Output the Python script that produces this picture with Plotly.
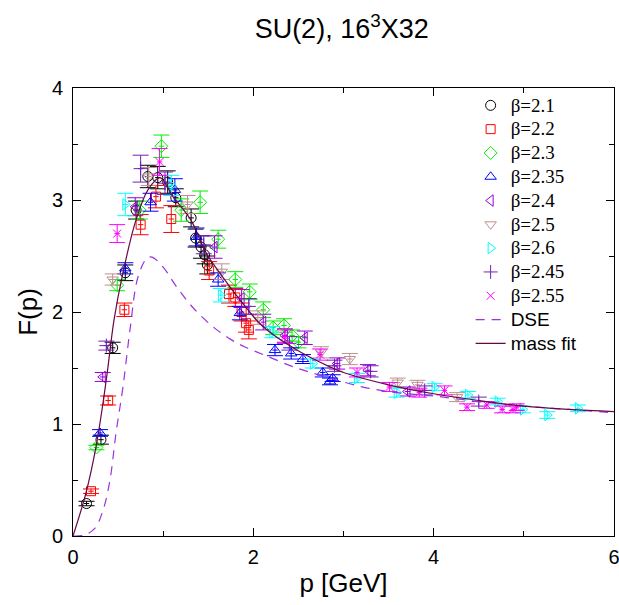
import plotly.graph_objects as go

# ---------------- data ----------------
p21 = [0.15, 0.31, 0.44, 0.58, 0.70, 0.83, 0.94, 1.05, 1.14, 1.31, 1.36, 1.42, 1.46, 1.49]
F21 = [0.29, 0.86, 1.68, 2.35, 2.91, 3.21, 3.20, 3.16, 3.02, 2.84, 2.66, 2.58, 2.51, 2.42]
e21 = [0.02, 0.04, 0.05, 0.07, 0.08, 0.10, 0.10, 0.10, 0.08, 0.08, 0.08, 0.10, 0.08, 0.08]

p22 = [0.20, 0.39, 0.57, 0.75, 0.92, 1.09, 1.51, 1.73, 1.80, 1.87, 1.92, 1.95]
F22 = [0.40, 1.21, 2.02, 2.78, 3.03, 2.83, 2.37, 2.16, 2.13, 2.00, 1.90, 1.84]
e22 = [0.02, 0.04, 0.06, 0.09, 0.10, 0.12, 0.08, 0.08, 0.08, 0.08, 0.08, 0.08]

p23 = [0.26, 0.49, 0.74, 0.98, 1.20, 1.41, 1.61, 1.80, 1.96, 2.11, 2.22, 2.34, 2.43, 2.50]
F23 = [0.79, 2.24, 2.91, 3.48, 2.91, 2.98, 2.65, 2.29, 2.18, 2.02, 1.86, 1.88, 1.79, 1.73]
e23 = [0.02, 0.05, 0.08, 0.10, 0.10, 0.10, 0.08, 0.07, 0.07, 0.07, 0.06, 0.06, 0.05, 0.05]

p235 = [0.30, 0.58, 0.86, 1.13, 1.37, 1.61, 1.85, 2.24, 2.42, 2.55, 2.77, 2.85, 2.88]
F235 = [0.92, 2.39, 2.98, 3.09, 2.67, 2.29, 1.99, 1.66, 1.63, 1.58, 1.46, 1.38, 1.41]
e235 = [0.03, 0.05, 0.08, 0.10, 0.08, 0.06, 0.06, 0.05, 0.05, 0.04, 0.04, 0.03, 0.03]

p24 = [0.33, 0.69, 1.57, 1.87, 2.11, 2.35, 2.57, 2.93, 3.27, 3.71]
F24 = [1.42, 2.94, 2.58, 2.12, 1.91, 1.79, 1.77, 1.54, 1.48, 1.29]
e24 = [0.04, 0.08, 0.10, 0.08, 0.07, 0.06, 0.06, 0.05, 0.05, 0.04]

p25 = [0.44, 0.84, 1.27, 1.65, 2.05, 2.75, 3.07, 3.60, 3.82, 4.26]
F25 = [2.29, 3.21, 2.96, 2.36, 1.95, 1.64, 1.58, 1.37, 1.35, 1.24]
e25 = [0.05, 0.08, 0.08, 0.07, 0.06, 0.05, 0.05, 0.04, 0.04, 0.04]

p26 = [0.58, 1.09, 1.64, 2.21, 2.66, 3.15, 3.59, 4.01, 4.38, 4.71, 4.99, 5.26, 5.60]
F26 = [2.96, 3.13, 2.15, 1.82, 1.54, 1.41, 1.28, 1.33, 1.26, 1.20, 1.13, 1.08, 1.14]
e26 = [0.10, 0.09, 0.06, 0.05, 0.04, 0.04, 0.04, 0.03, 0.03, 0.03, 0.03, 0.03, 0.03]

p245 = [0.37, 0.75, 1.02, 1.45, 1.95, 2.40, 2.90, 3.30, 3.90, 4.50]
F245 = [1.70, 3.28, 3.15, 2.60, 2.05, 1.72, 1.52, 1.47, 1.30, 1.20]
e245 = [0.04, 0.12, 0.10, 0.08, 0.07, 0.06, 0.05, 0.05, 0.04, 0.04]

p255 = [0.49, 0.96, 2.35, 2.74, 3.15, 3.51, 3.84, 4.12, 4.37, 4.59, 4.76, 4.88, 4.92]
F255 = [2.70, 3.34, 1.78, 1.62, 1.46, 1.33, 1.28, 1.30, 1.15, 1.17, 1.13, 1.13, 1.15]
e255 = [0.08, 0.12, 0.06, 0.05, 0.04, 0.04, 0.04, 0.04, 0.03, 0.03, 0.03, 0.03, 0.03]

# curves
p_fit = [0.0, 0.144, 0.255, 0.333, 0.388, 0.455, 0.554, 0.698, 0.831, 0.965, 1.109,
         1.308, 1.475, 1.663, 1.851, 2.106, 2.483, 2.849, 3.0, 3.5, 4.0, 4.5, 5.0, 5.5, 6.0]
F_fit = [0.0, 0.384, 0.795, 1.19, 1.51, 1.93, 2.35, 2.82, 3.09, 3.20, 3.03,
         2.82, 2.53, 2.31, 2.11, 1.87, 1.66, 1.51, 1.46, 1.35, 1.27, 1.21, 1.16, 1.13, 1.11]

p_dse = [0.0, 0.133, 0.244, 0.333, 0.41, 0.477, 0.554, 0.632, 0.72, 0.82, 0.876, 1.0,
         1.153, 1.33, 1.55, 1.74, 1.9, 2.11, 2.48, 2.85, 3.215, 3.59, 4.0, 4.5, 5.0, 5.5, 6.0]
F_dse = [0.0, 0.01, 0.07, 0.23, 0.50, 0.92, 1.33, 1.84, 2.31, 2.48, 2.49, 2.40,
         2.22, 2.04, 1.87, 1.76, 1.69, 1.62, 1.50, 1.41, 1.33, 1.28, 1.25, 1.20, 1.16, 1.13, 1.10]

series = [
    ("β=2.1", p21, F21, e21, "circle-open", "#000000", 10),
    ("β=2.2", p22, F22, e22, "square-open", "#ff0000", 9),
    ("β=2.3", p23, F23, e23, "diamond-open", "#00ee00", 10),
    ("β=2.35", p235, F235, e235, "triangle-up-open", "#0000ff", 10),
    ("β=2.4", p24, F24, e24, "triangle-left-open", "#9400d3", 10),
    ("β=2.5", p25, F25, e25, "triangle-down-open", "#bc8f8f", 10),
    ("β=2.6", p26, F26, e26, "triangle-right-open", "#00ffff", 10),
    ("β=2.45", p245, F245, e245, "cross-thin-open", "#7221bc", 10),
    ("β=2.55", p255, F255, e255, "x-thin-open", "#ff00ff", 8),
]

LEG = '<span style="font-size:19px">%s</span>'
LEGS = '<span style="font-family:Liberation Sans, Arial;font-size:19px">%s</span>'

fig = go.Figure()
for name, px, py, pe, sym, col, sz in series:
    fig.add_trace(go.Scatter(
        x=px, y=py, mode="markers", name=LEG % name,
        marker=dict(symbol=sym, size=sz, color=col, line=dict(color=col, width=1)),
        error_y=dict(type="data", array=pe, visible=True, color=col, thickness=1, width=8),
        error_x=dict(type="constant", value=0.03, visible=True, color=col, thickness=1, width=0),
    ))

fig.add_trace(go.Scatter(
    x=p_dse, y=F_dse, mode="lines", line_shape="spline",
    name=LEGS % "DSE",
    line=dict(color="#9a32e0", width=1.2, dash="9px,7px"),
))
fig.add_trace(go.Scatter(
    x=p_fit, y=F_fit, mode="lines", line_shape="spline",
    name=LEGS % "mass fit",
    line=dict(color="#670748", width=1.2),
))

axis_common = dict(
    showgrid=False, zeroline=False, showline=True, linecolor="black", linewidth=1,
    mirror="allticks", ticks="inside", ticklen=8, tickcolor="black",
    ticklabeloverflow="allow", automargin=False,
    tickfont=dict(family="Liberation Sans, Arial", size=20, color="black"),
)

fig.update_layout(
    width=619, height=605,
    margin=dict(l=73, r=5, t=88, b=69, autoexpand=False),
    paper_bgcolor="white", plot_bgcolor="white",
    font=dict(family="Liberation Sans, Arial", color="black"),
    title=dict(text="SU(2), 16<sup>3</sup>X32", x=0.552, xanchor="center", y=0.952, yanchor="middle",
               font=dict(family="Liberation Sans, Arial", size=27, color="black")),
    xaxis=dict(range=[0, 6], tickvals=[0, 2, 4, 6], ticklabelstandoff=3,
               minor=dict(tickvals=[1, 3, 5], ticks="inside", ticklen=5, tickcolor="black"),
               title=dict(text="p [GeV]", font=dict(family="Liberation Sans, Arial", size=26, color="black"),
                          standoff=6),
               **axis_common),
    yaxis=dict(range=[0, 4], tickvals=[0, 1, 2, 3, 4], ticklabelstandoff=5,
               minor=dict(tickvals=[0.5, 1.5, 2.5, 3.5], ticks="inside", ticklen=5, tickcolor="black"),
               title=dict(text="F(p)", font=dict(family="Liberation Sans, Arial", size=26, color="black"),
                          standoff=6),
               **axis_common),
    legend=dict(x=0.735, y=0.999, xanchor="left", yanchor="top", bgcolor="rgba(0,0,0,0)",
                font=dict(family="Liberation Serif, Times New Roman", size=16, color="black"),
                itemwidth=30, tracegroupgap=0),
    showlegend=True,
)

fig.write_html("out.html")
